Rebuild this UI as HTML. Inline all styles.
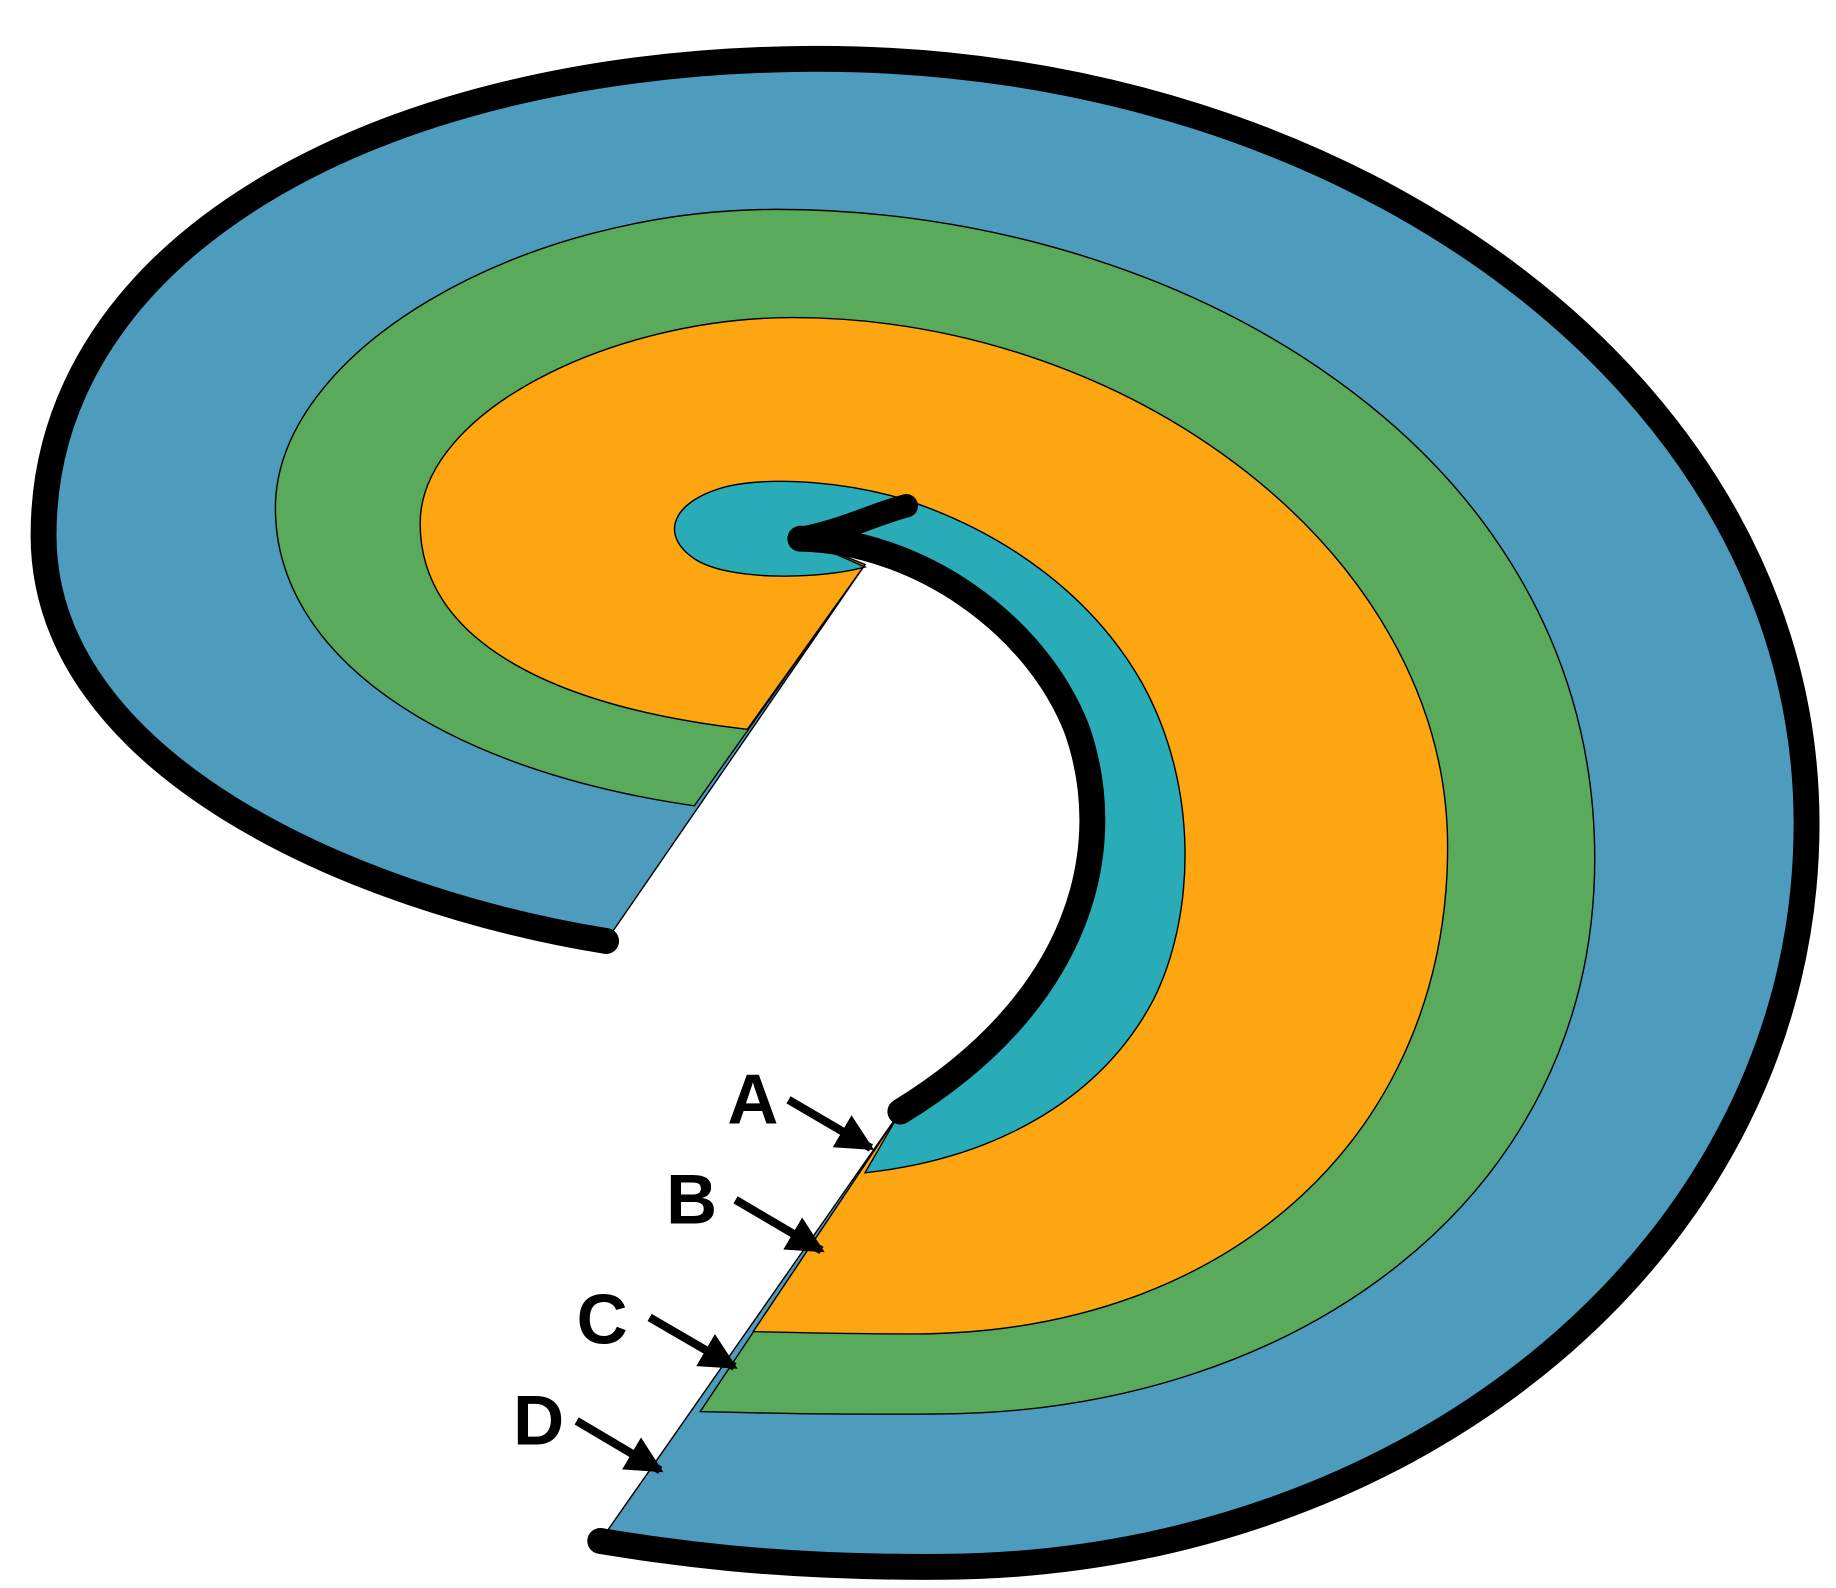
<!DOCTYPE html>
<html><head><meta charset="utf-8"><style>
html,body{margin:0;padding:0;background:#fff;}
svg{display:block;}
text{font-family:"Liberation Sans",Arial,sans-serif;font-weight:bold;font-size:60px;fill:#000;}
</style></head><body>
<svg width="1836" height="1588" viewBox="0 0 1560 1350" preserveAspectRatio="none">
<defs>
<marker id="ah" viewBox="0 0 10 10" refX="9" refY="5" markerWidth="4.5" markerHeight="4.5" orient="auto"><path d="M0,0 L10,5 L0,10 z" fill="#000"/></marker>
</defs>
<!-- blue -->
<path d="M515,800 C300,765 37,650 37,455 C37,210 320,52 690,50 C1150,48 1535,330 1535,700 C1535,1060 1200,1330 800,1332 C650,1333 560,1318 510,1310 L765,945 C920,850 950,720 915,620 C880,530 780,460 680,458 L735,480 Z" fill="#4d9bbd" stroke="#000" stroke-width="1.2"/>
<!-- green -->
<path d="M590,685 C380,655 234,560 234,432 C234,300 440,178 660,178 C1000,178 1355,380 1355,730 C1355,1020 1100,1200 800,1202 C700,1203 640,1201 595,1200 L765,945 C920,850 950,720 915,620 C880,530 780,460 680,458 L735,480 Z" fill="#5aaa5c" stroke="#000" stroke-width="1.2"/>
<!-- orange -->
<path d="M635,620 C460,600 357,540 357,445 C357,350 520,270 673,270 C960,270 1230,470 1230,720 C1230,960 1050,1132 780,1134 C720,1134 680,1133 640,1132 L765,945 C920,850 950,720 915,620 C880,530 780,460 680,458 L735,480 Z" fill="#fda611" stroke="#000" stroke-width="1.2"/>
<!-- teal -->
<path d="M735,482 C700,492 620,495 590,475 C560,455 570,425 620,413 C660,405 720,410 770,425 C860,455 930,510 970,580 C1020,670 1015,780 980,850 C935,935 845,985 735,997 L765,945 C920,850 950,720 915,620 C880,530 780,460 680,458 Z" fill="#2aabb8" stroke="#000" stroke-width="1.2"/>
<!-- thick black strokes -->
<path d="M515,800 C300,765 37,650 37,455 C37,210 320,52 690,50 C1150,48 1535,330 1535,700 C1535,1060 1200,1330 800,1332 C650,1333 560,1318 510,1310" fill="none" stroke="#000" stroke-width="22" stroke-linecap="round"/>
<path d="M680,458 C780,460 880,530 915,620 C950,720 920,850 765,945" fill="none" stroke="#000" stroke-width="22" stroke-linecap="round"/>
<path d="M680,458 C720,450 740,438 770,430" fill="none" stroke="#000" stroke-width="20" stroke-linecap="round"/>
<!-- labels -->
<text x="618" y="955">A</text>
<text x="566" y="1040">B</text>
<text x="490" y="1142">C</text>
<text x="436" y="1228">D</text>
<g stroke="#000" stroke-width="7" marker-end="url(#ah)">
<line x1="670" y1="935" x2="740" y2="976"/>
<line x1="625" y1="1020" x2="698" y2="1063"/>
<line x1="552" y1="1120" x2="624" y2="1162"/>
<line x1="490" y1="1208" x2="561" y2="1250"/>
</g>
</svg>
</body></html>
